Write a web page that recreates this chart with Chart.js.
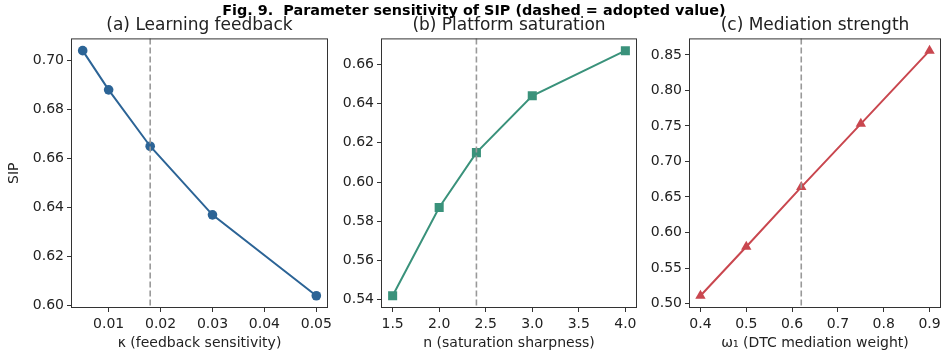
<!DOCTYPE html>
<html>
<head>
<meta charset="utf-8">
<script src="https://cdn.jsdelivr.net/npm/chart.js@4.4.1/dist/chart.umd.min.js"></script>
<style>
  body { margin: 0; background: #fff; }
  #wrap { position: relative; width: 948px; height: 358px; }
  #wrap canvas { position: absolute; left: 0; top: 0; }
  #sup { position: absolute; left: 0; width: 948px; top: 1px; text-align: center;
         font: bold 14.4px "DejaVu Sans"; line-height: 18px; color: #000; }
</style>
</head>
<body>
<div id="wrap">
  <canvas id="ca" width="948" height="358"></canvas>
  <canvas id="cb" width="948" height="358"></canvas>
  <canvas id="cc" width="948" height="358"></canvas>
  <div id="sup">Fig. 9.&nbsp; Parameter sensitivity of SIP (dashed = adopted value)</div>
</div>
<script>
// (a) learning feedback
const kappa = [0.005, 0.01, 0.018, 0.03, 0.05];
const sipA = [0.704, 0.688, 0.665, 0.637, 0.604];
const kappaTicks = [0.01, 0.02, 0.03, 0.04, 0.05];
const sipATicks = [0.60, 0.62, 0.64, 0.66, 0.68, 0.70];
const kappaAdopted = 0.018;

// (b) platform saturation
const nSharp = [1.5, 2.0, 2.4, 3.0, 4.0];
const sipB = [0.542, 0.587, 0.615, 0.644, 0.667];
const nTicks = [1.5, 2.0, 2.5, 3.0, 3.5, 4.0];
const sipBTicks = [0.54, 0.56, 0.58, 0.60, 0.62, 0.64, 0.66];
const nAdopted = 2.4;

// (c) mediation strength
const omega = [0.4, 0.5, 0.62, 0.75, 0.9];
const sipC = [0.511, 0.580, 0.664, 0.753, 0.856];
const omegaTicks = [0.4, 0.5, 0.6, 0.7, 0.8, 0.9];
const sipCTicks = [0.50, 0.55, 0.60, 0.65, 0.70, 0.75, 0.80, 0.85];
const omegaAdopted = 0.62;

const FONT = 'DejaVu Sans';
const TXT = '#222';

// frame + dashed adopted line
const framePlugin = {
  id: 'frame',
  afterDatasetsDraw(chart, args, opts) {
    const a = chart.chartArea, ctx = chart.ctx;
    const x = chart.scales.x.getPixelForValue(opts.adopted);
    ctx.save();
    ctx.strokeStyle = '#999';
    ctx.lineWidth = 1.6;
    ctx.setLineDash([6, 3]);
    ctx.beginPath();
    ctx.moveTo(x, a.top);
    ctx.lineTo(x, a.bottom);
    ctx.stroke();
    ctx.setLineDash([]);
    ctx.strokeStyle = '#333';
    ctx.lineWidth = 1;
    ctx.strokeRect(a.left + 0.5, a.top + 0.5, a.right - a.left - 1, a.bottom - a.top - 1);
    ctx.restore();
  }
};

const markerSize = { circle: 4.8, rect: 6.4, triangle: 6 };

function panel(id, title, xs, ys, xTicks, yTicks, xLabel, yLabel, adopted, color, marker, xDec, yDec, padL, padR, yW) {
  const xr = xs[xs.length - 1] - xs[0];
  const yr = Math.max(...ys) - Math.min(...ys);
  return new Chart(document.getElementById(id), {
    type: 'line',
    data: {
      datasets: [{
        data: xs.map((x, i) => ({ x: x, y: ys[i] })),
        borderColor: color,
        backgroundColor: color,
        borderWidth: 2,
        pointStyle: marker,
        pointRadius: markerSize[marker],
        pointBorderWidth: 0,
        tension: 0
      }]
    },
    options: {
      responsive: false,
      animation: false,
      layout: { padding: { left: padL, right: padR, top: 0, bottom: 6 } },
      plugins: {
        legend: { display: false },
        tooltip: { enabled: false },
        title: {
          display: true, text: title, fullSize: false, color: TXT,
          font: { family: FONT, size: 17, weight: 'normal' },
          padding: { top: 15, bottom: 3 }
        },
        frame: { adopted: adopted }
      },
      scales: {
        x: {
          type: 'linear',
          min: xs[0] - xr * 0.05,
          max: xs[xs.length - 1] + xr * 0.05,
          afterBuildTicks: s => { s.ticks = xTicks.map(v => ({ value: v })); },
          afterFit: s => { s.height = 44; },
          grid: { drawOnChartArea: false, tickLength: 4, color: '#333', tickWidth: 1 },
          border: { display: false },
          ticks: { color: TXT, font: { family: FONT, size: 14 }, padding: 4, maxRotation: 0,
                   callback: v => v.toFixed(xDec) },
          title: { display: true, text: xLabel, color: TXT, font: { family: FONT, size: 14 }, padding: 0 }
        },
        y: {
          type: 'linear',
          min: Math.min(...ys) - yr * 0.05,
          max: Math.max(...ys) + yr * 0.05,
          afterBuildTicks: s => { s.ticks = yTicks.map(v => ({ value: v })); },
          afterFit: s => { s.width = yW; },
          grid: { drawOnChartArea: false, tickLength: 4, color: '#333', tickWidth: 1 },
          border: { display: false },
          ticks: { color: TXT, font: { family: FONT, size: 14 }, padding: 3,
                   callback: v => v.toFixed(yDec) },
          title: { display: !!yLabel, text: yLabel, color: TXT, font: { family: FONT, size: 14 }, padding: 0 }
        }
      }
    },
    plugins: [framePlugin]
  });
}

panel('ca', '(a) Learning feedback', kappa, sipA, kappaTicks, sipATicks,
      'κ (feedback sensitivity)', 'SIP', kappaAdopted, '#2c6496', 'circle', 2, 2, 6, 620, 65);
panel('cb', '(b) Platform saturation', nSharp, sipB, nTicks, sipBTicks,
      'n (saturation sharpness)', '', nAdopted, '#3a927b', 'rect', 1, 2, 320, 311, 61);
panel('cc', '(c) Mediation strength', omega, sipC, omegaTicks, sipCTicks,
      'ω₁ (DTC mediation weight)', '', omegaAdopted, '#c9474f', 'triangle', 1, 2, 628, 7, 61);
</script>
</body>
</html>
